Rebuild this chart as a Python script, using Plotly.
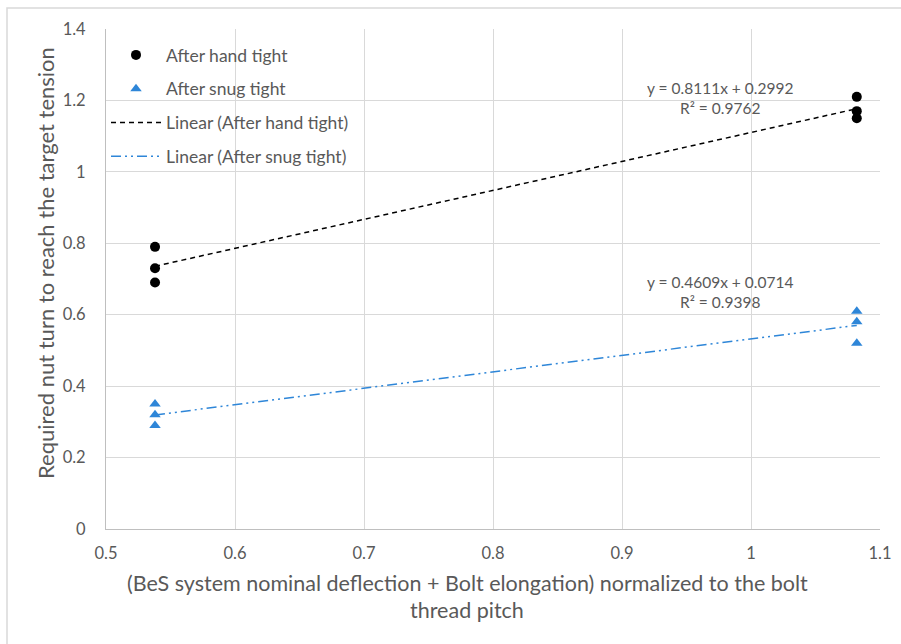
import plotly.graph_objects as go

# Data
x_hand = [0.538, 0.538, 0.538, 1.082, 1.082, 1.082]
y_hand = [0.79, 0.73, 0.69, 1.21, 1.17, 1.15]
x_snug = [0.538, 0.538, 0.538, 1.082, 1.082, 1.082]
y_snug = [0.35, 0.32, 0.29, 0.61, 0.58, 0.52]
hand_slope, hand_int, hand_r2 = 0.8111, 0.2992, 0.9762
snug_slope, snug_int, snug_r2 = 0.4609, 0.0714, 0.9398
trend_x = [0.538, 1.082]
x_title_lines = ["(BeS system nominal deflection + Bolt elongation) normalized to the bolt",
                 "thread pitch"]
y_title = "Required nut turn to reach the target tension"

FONT = "Lato"
TXT = "#595959"
BLUE = "#2E86D8"

L, R, T, B = 106, 21, 29, 115
W, H = 901, 644
PW, PH = W - L - R, H - T - B


def px_x(p):
    return (p - L) / PW


def px_y(p):
    return (H - B - p) / PH


fig = go.Figure()
fig.add_trace(go.Scatter(x=x_hand, y=y_hand, mode="markers", name="After hand tight",
                         marker=dict(symbol="circle", size=10, color="black"),
                         legendgroup="a"))
fig.add_trace(go.Scatter(x=x_snug, y=y_snug, mode="markers", name="After snug tight",
                         marker=dict(symbol="triangle-up", size=10, color=BLUE),
                         legendgroup="b"))
fig.add_trace(go.Scatter(x=trend_x, y=[hand_slope * v + hand_int for v in trend_x], mode="lines",
                         name="Linear (After hand tight)",
                         line=dict(color="black", width=1.5, dash="5px,4px"),
                         legendgroup="c"))
fig.add_trace(go.Scatter(x=trend_x, y=[snug_slope * v + snug_int for v in trend_x], mode="lines",
                         name="Linear (After snug tight)",
                         line=dict(color=BLUE, width=1.5, dash="10px,4px,2px,4px,2px,4px"),
                         legendgroup="d"))

fig.add_annotation(x=0.976, y=1.207, xref="x", yref="y",
                   text=f"y = {hand_slope}x + {hand_int}<br>R² = {hand_r2}",
                   showarrow=False, align="center",
                   font=dict(family=FONT, size=15.5, color=TXT))
fig.add_annotation(x=0.976, y=0.664, xref="x", yref="y",
                   text=f"y = {snug_slope}x + {snug_int}<br>R² = {snug_r2}",
                   showarrow=False, align="center",
                   font=dict(family=FONT, size=15.5, color=TXT))

# axis titles
fig.add_annotation(x=px_x(467), y=px_y(583), xref="paper", yref="paper",
                   text=x_title_lines[0], showarrow=False, xanchor="center", yanchor="middle",
                   font=dict(family=FONT, size=21.5, color=TXT))
fig.add_annotation(x=px_x(467), y=px_y(610), xref="paper", yref="paper",
                   text=x_title_lines[1], showarrow=False, xanchor="center", yanchor="middle",
                   font=dict(family=FONT, size=21.5, color=TXT))
fig.add_annotation(x=px_x(45), y=px_y(263), xref="paper", yref="paper",
                   text=y_title, showarrow=False, textangle=-90,
                   xanchor="center", yanchor="middle",
                   font=dict(family=FONT, size=22, color=TXT))

# outer chart border
fig.add_shape(type="rect", xref="paper", yref="paper",
              x0=px_x(7), x1=px_x(906), y0=px_y(650), y1=px_y(8),
              line=dict(color="#d9d9d9", width=1.5), fillcolor="rgba(0,0,0,0)", layer="below")

fig.update_layout(
    width=W, height=H,
    margin=dict(l=L, r=R, t=T, b=B),
    paper_bgcolor="white", plot_bgcolor="white",
    font=dict(family=FONT, size=16, color=TXT),
    showlegend=True,
    legend=dict(x=0.0, y=px_y(37), xanchor="left", yanchor="top",
                bgcolor="rgba(0,0,0,0)", tracegroupgap=8, itemwidth=50,
                font=dict(family=FONT, size=17.5, color=TXT)),
    xaxis=dict(range=[0.5, 1.1], dtick=0.1, tick0=0.5, showgrid=True,
               gridcolor="#d9d9d9", gridwidth=1, zeroline=False,
               showline=True, linecolor="#bfbfbf", linewidth=1,
               ticks="outside", ticklen=9, tickcolor="rgba(0,0,0,0)",
               tickfont=dict(family=FONT, size=16.5, color=TXT),
               tickformat="~g", automargin=False),
    yaxis=dict(range=[0, 1.4], dtick=0.2, showgrid=True,
               gridcolor="#d9d9d9", gridwidth=1, zeroline=False,
               showline=True, linecolor="#bfbfbf", linewidth=1,
               ticks="outside", ticklen=16, tickcolor="rgba(0,0,0,0)",
               tickfont=dict(family=FONT, size=16.5, color=TXT),
               tickformat="~g", automargin=False),
)

fig.write_html("out.html")
